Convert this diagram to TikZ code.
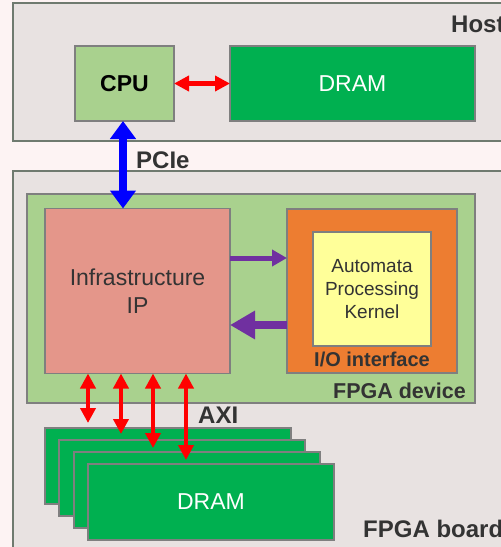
\documentclass[tikz,border=0pt]{standalone}
\usepackage{fontspec}
\setmainfont{Liberation Sans}
\usetikzlibrary{arrows.meta}
\definecolor{bgc}{HTML}{FDF3F3}
\definecolor{outerfill}{HTML}{E8E2E1}
\definecolor{outerdraw}{HTML}{6F7A6F}
\definecolor{boxdraw}{HTML}{7F7F7F}
\definecolor{lgreen}{HTML}{A9D18E}
\definecolor{dgreen}{HTML}{00B050}
\definecolor{salmon}{HTML}{E4968A}
\definecolor{orangec}{HTML}{ED7D31}
\definecolor{yellowc}{HTML}{FFFF99}
\definecolor{purplec}{HTML}{7030A0}
\definecolor{txt}{HTML}{333333}
\tikzset{
  outerbox/.style={draw=outerdraw,fill=outerfill,line width=1.8pt,inner sep=0pt,outer sep=0pt},
  blk/.style={draw=boxdraw,line width=1.8pt,inner sep=0pt,outer sep=0pt,align=center},
  lbl/.style={text=txt,font=\bfseries\fontsize{24}{26}\selectfont,inner sep=0pt},
  redarr/.style={draw=red,line width=4.5pt,{Triangle[length=15pt,width=15pt]}-{Triangle[length=15pt,width=15pt]}},
  bluearr/.style={draw=blue,line width=8pt,{Triangle[length=18pt,width=25pt]}-{Triangle[length=18pt,width=25pt]}},
  purpthin/.style={draw=purplec,line width=5pt,-{Triangle[length=15pt,width=16pt]}},
  purpthick/.style={draw=purplec,line width=8.5pt,-{Triangle[length=25pt,width=27pt]}}
}
\begin{document}
\begin{tikzpicture}[x=1pt,y=-1pt]
\useasboundingbox (0,0) rectangle (501,547);
\clip (0,0) rectangle (501,547);
\fill[bgc] (0,0) rectangle (501,547);
% outer boxes
\node[outerbox,minimum width=517pt,minimum height=138pt] (host) at (271.5,72) {};
\node[lbl,anchor=base west] (hostlbl) at (451,32) {Host};
\node[outerbox,minimum width=517pt,minimum height=389pt] (board) at (271.5,365.5) {};
\node[lbl,anchor=base west] (boardlbl) at (363,537) {FPGA board};
% host contents
\node[blk,fill=lgreen,minimum width=99pt,minimum height=75pt,font=\bfseries\fontsize{23}{26}\selectfont] (cpu) at (124.5,83.5) {CPU};
\node[blk,fill=dgreen,text=white,minimum width=245pt,minimum height=75pt,font=\fontsize{23}{26}\selectfont] (hdram) at (352.5,83.5) {DRAM};
% FPGA device
\node[blk,fill=lgreen,minimum width=448pt,minimum height=209pt] (device) at (251,298.5) {};
\node[lbl,anchor=base east,font=\bfseries\fontsize{21.5}{24}\selectfont] (devlbl) at (466,398) {FPGA device};
\node[blk,fill=salmon,text=txt,minimum width=185pt,minimum height=165pt,font=\fontsize{23}{28}\selectfont] (ip) at (137.5,291) {Infrastructure\\IP};
\node[blk,fill=orangec,minimum width=170pt,minimum height=164pt] (io) at (372,291) {};
\node[lbl,anchor=base,font=\bfseries\fontsize{20}{24}\selectfont] (iolbl) at (372,366) {I/O interface};
\node[blk,fill=yellowc,text=txt,minimum width=118pt,minimum height=114pt,font=\fontsize{19}{23}\selectfont] (apk) at (372,289) {Automata\\Processing\\Kernel};
% DRAM stack
\node[blk,fill=dgreen,minimum width=246pt,minimum height=76pt] (d1) at (168,466) {};
\node[blk,fill=dgreen,minimum width=246pt,minimum height=76pt] (d2) at (182.3,478) {};
\node[blk,fill=dgreen,minimum width=246pt,minimum height=76pt] (d3) at (196.6,490) {};
\node[blk,fill=dgreen,text=white,minimum width=246pt,minimum height=76pt,font=\fontsize{23}{26}\selectfont] (d4) at (211,502) {DRAM};
% connectors
\draw[redarr] (cpu.east) -- (hdram.west);
\draw[bluearr] ([xshift=-1.5pt]cpu.south) -- ([xshift=-1.5pt]cpu.south |- ip.north);
\node[lbl,anchor=base west] (pcie) at (136,168) {PCIe};
\coordinate (pa) at ([yshift=33pt]ip.east);
\coordinate (pb) at ([yshift=-34pt]ip.east);
\draw[purpthin] (pa) -- (pa -| io.west);
\draw[purpthick] (pb -| io.west) -- (pb);
\coordinate (a1) at ([xshift=-49.5pt]ip.south);
\coordinate (a2) at ([xshift=-16.5pt]ip.south);
\coordinate (a3) at ([xshift=15.5pt]ip.south);
\coordinate (a4) at ([xshift=48.5pt]ip.south);
\draw[redarr,shorten >=5pt] (a1) -- (a1 |- d1.north);
\draw[redarr,shorten >=6pt] (a2) -- (a2 |- d2.north);
\draw[redarr,shorten >=4pt] (a3) -- (a3 |- d3.north);
\draw[redarr,shorten >=4pt] (a4) -- (a4 |- d4.north);
\node[lbl,anchor=base west] (axi) at (198,423) {AXI};
\end{tikzpicture}
\end{document}
